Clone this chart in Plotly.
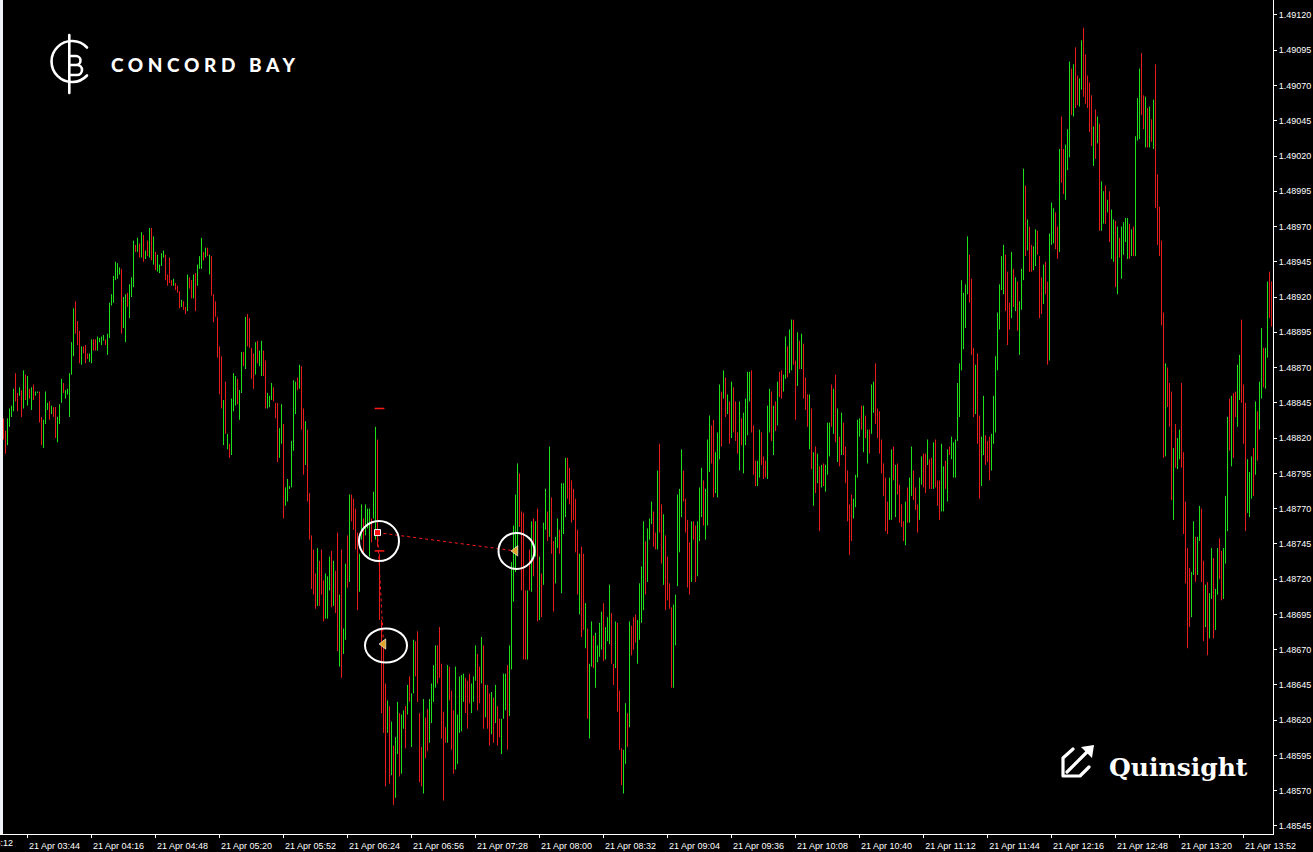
import base64
import pandas as pd
import plotly.graph_objects as go

# ---------------- data (prices in points: price = 1.48 + pts * 1e-5) ----------------
BASE = 1.48
PT = 1e-5
START = "2023-04-21 03:32"   # first 1-minute bar

high_pts = [
    834, 825, 834, 841, 843, 855, 866, 852, 856, 854,
    868, 865, 864, 855, 856, 858, 853, 853, 853, 835,
    833, 853, 845, 846, 843, 842, 842, 835, 844, 862,
    859, 854, 855, 866, 888, 912, 917, 903, 896, 885,
    885, 886, 880, 880, 890, 890, 890, 892, 891, 892,
    893, 890, 894, 916, 922, 935, 945, 944, 941, 940,
    920, 922, 923, 929, 934, 960, 957, 962, 958, 966,
    964, 953, 960, 969, 969, 963, 952, 950, 943, 951,
    953, 950, 936, 948, 932, 933, 930, 928, 924, 918,
    917, 913, 936, 934, 932, 936, 937, 943, 949, 962,
    952, 955, 955, 950, 949, 922, 917, 906, 885, 878,
    847, 860, 823, 816, 848, 866, 864, 862, 854, 881,
    881, 906, 908, 905, 884, 880, 888, 889, 882, 889,
    882, 875, 852, 850, 859, 856, 845, 845, 827, 844,
    830, 785, 791, 786, 818, 861, 860, 863, 872, 871,
    841, 832, 826, 781, 751, 741, 724, 742, 733, 741,
    719, 724, 722, 736, 740, 733, 726, 753, 709, 741,
    685, 731, 751, 780, 780, 777, 770, 753, 738, 773,
    763, 773, 770, 770, 763, 782, 828, 819, 738, 691,
    672, 646, 634, 630, 619, 602, 608, 633, 625, 624,
    627, 630, 645, 651, 639, 677, 676, 683, 625, 601,
    635, 622, 628, 635, 646, 659, 673, 673, 686, 660,
    626, 615, 659, 658, 641, 627, 658, 624, 651, 652,
    653, 650, 648, 653, 646, 651, 673, 667, 658, 679,
    673, 645, 645, 639, 640, 636, 645, 630, 621, 621,
    653, 653, 659, 673, 732, 758, 780, 802, 795, 768,
    767, 712, 712, 741, 761, 763, 761, 770, 736, 724,
    760, 784, 768, 814, 778, 747, 750, 763, 755, 788,
    788, 806, 806, 799, 790, 784, 777, 755, 738, 743,
    738, 703, 685, 660, 690, 680, 682, 673, 689, 697,
    703, 686, 693, 716, 696, 660, 690, 689, 641, 600,
    599, 632, 625, 690, 687, 693, 695, 691, 717, 729,
    761, 747, 756, 763, 775, 768, 753, 797, 816, 773,
    766, 751, 736, 717, 700, 702, 709, 780, 784, 812,
    797, 777, 762, 746, 761, 761, 758, 761, 785, 799,
    790, 784, 819, 836, 829, 833, 810, 824, 858, 853,
    868, 863, 851, 846, 860, 856, 846, 824, 846, 834,
    838, 848, 867, 867, 868, 829, 804, 804, 826, 824,
    807, 804, 843, 855, 853, 843, 846, 860, 867, 868,
    865, 892, 885, 897, 904, 904, 875, 895, 889, 894,
    887, 863, 851, 851, 841, 810, 814, 809, 800, 801,
    802, 801, 831, 831, 858, 855, 865, 841, 821, 838,
    831, 814, 797, 773, 780, 777, 794, 833, 834, 843,
    843, 836, 826, 826, 858, 860, 873, 841, 839, 819,
    802, 792, 775, 792, 812, 814, 801, 802, 787, 773,
    761, 775, 785, 792, 814, 797, 785, 773, 792, 807,
    809, 809, 819, 805, 806, 817, 819, 790, 790, 816,
    800, 804, 812, 814, 821, 817, 819, 859, 873, 932,
    923, 929, 963, 950, 933, 884, 872, 880, 836, 821,
    850, 822, 818, 821, 823, 850, 878, 909, 929, 949,
    957, 950, 938, 916, 952, 940, 934, 931, 917, 940,
    1011, 999, 975, 970, 957, 956, 968, 967, 949, 934,
    943, 945, 931, 965, 987, 983, 980, 970, 1025, 1048,
    1025, 1028, 1039, 1087, 1082, 1085, 1097, 1077, 1075, 1102,
    1111, 1092, 1077, 1072, 1063, 1041, 1053, 1048, 1043, 1002,
    995, 999, 989, 995, 982, 975, 974, 970, 962, 970,
    973, 976, 976, 972, 968, 970, 1034, 1061, 1082, 1093,
    1063, 1062, 1054, 1055, 1046, 1060, 1085, 1007, 984, 960,
    909, 873, 870, 859, 853, 813, 830, 820, 826, 859,
    810, 775, 742, 728, 725, 761, 750, 750, 772, 770,
    733, 716, 718, 710, 742, 735, 713, 742, 749, 740,
    742, 779, 835, 848, 850, 852, 853, 872, 879, 904,
    858, 845, 805, 796, 807, 813, 846, 839, 860, 898,
    884, 884, 931, 938, 931,
]

low_pts = [
    819, 809, 815, 828, 835, 839, 846, 839, 850, 835,
    841, 847, 843, 848, 840, 847, 850, 852, 831, 815,
    813, 830, 840, 833, 837, 835, 820, 817, 830, 845,
    852, 848, 851, 835, 865, 878, 894, 886, 873, 872,
    880, 873, 876, 874, 873, 882, 882, 882, 888, 886,
    889, 886, 879, 891, 914, 916, 932, 933, 936, 894,
    898, 888, 913, 905, 920, 927, 952, 952, 948, 948,
    945, 947, 949, 948, 946, 943, 939, 938, 937, 942,
    948, 932, 928, 930, 928, 928, 925, 923, 912, 913,
    911, 908, 910, 926, 919, 919, 910, 928, 940, 940,
    946, 948, 949, 936, 921, 902, 906, 877, 851, 841,
    815, 823, 812, 806, 808, 839, 843, 844, 833, 852,
    871, 869, 885, 884, 862, 855, 865, 873, 871, 864,
    864, 841, 841, 842, 847, 846, 834, 803, 806, 816,
    763, 772, 775, 784, 785, 811, 837, 854, 855, 826,
    794, 801, 775, 748, 713, 709, 699, 701, 701, 709,
    690, 692, 692, 712, 700, 701, 696, 669, 658, 650,
    667, 677, 714, 718, 761, 755, 741, 698, 711, 748,
    738, 751, 756, 736, 746, 763, 748, 743, 691, 625,
    611, 573, 611, 575, 581, 560, 565, 596, 580, 582,
    614, 600, 624, 633, 601, 639, 651, 633, 576, 573,
    568, 593, 598, 604, 618, 633, 643, 646, 650, 607,
    563, 604, 604, 634, 599, 582, 585, 589, 611, 612,
    633, 625, 614, 632, 625, 633, 648, 627, 632, 646,
    614, 622, 614, 602, 610, 604, 618, 602, 608, 596,
    621, 627, 599, 623, 656, 704, 725, 741, 757, 712,
    663, 663, 663, 712, 711, 722, 736, 690, 691, 693,
    716, 755, 747, 750, 738, 697, 717, 742, 738, 710,
    752, 764, 777, 773, 760, 762, 739, 709, 695, 679,
    684, 671, 621, 607, 658, 657, 643, 661, 665, 670,
    662, 663, 676, 674, 660, 645, 657, 626, 599, 574,
    568, 589, 601, 615, 666, 670, 675, 660, 677, 689,
    698, 709, 718, 748, 759, 743, 741, 741, 753, 731,
    716, 698, 705, 699, 643, 643, 673, 715, 739, 764,
    775, 753, 714, 709, 718, 748, 718, 722, 747, 764,
    758, 748, 758, 796, 802, 778, 781, 778, 805, 814,
    848, 835, 837, 816, 820, 824, 818, 809, 797, 815,
    795, 815, 822, 846, 824, 794, 786, 786, 792, 801,
    791, 792, 791, 824, 818, 808, 825, 829, 849, 848,
    853, 862, 863, 866, 868, 872, 833, 857, 869, 869,
    848, 840, 828, 812, 798, 772, 781, 788, 754, 785,
    786, 782, 794, 807, 828, 823, 817, 803, 800, 808,
    808, 788, 761, 737, 747, 763, 771, 792, 821, 826,
    810, 820, 802, 809, 823, 838, 830, 820, 809, 795,
    779, 754, 752, 762, 762, 790, 764, 780, 760, 757,
    747, 744, 760, 760, 779, 776, 769, 753, 762, 787,
    785, 781, 801, 784, 784, 784, 785, 772, 762, 768,
    768, 784, 775, 808, 805, 792, 792, 818, 835, 868,
    883, 898, 922, 916, 879, 835, 837, 816, 777, 786,
    808, 801, 803, 790, 797, 816, 824, 868, 897, 925,
    922, 910, 886, 897, 905, 913, 910, 896, 879, 911,
    932, 949, 953, 938, 938, 939, 942, 950, 905, 908,
    915, 922, 872, 875, 957, 958, 954, 947, 952, 1001,
    993, 989, 1010, 1019, 1049, 1048, 1054, 1056, 1055, 1067,
    1062, 1057, 1054, 1037, 1027, 1013, 1018, 1029, 967, 967,
    972, 972, 980, 959, 947, 945, 927, 922, 948, 933,
    950, 959, 947, 947, 949, 949, 949, 1031, 1032, 1049,
    1039, 1026, 1026, 1026, 1030, 1025, 983, 957, 949, 900,
    806, 807, 842, 828, 776, 762, 799, 798, 805, 799,
    752, 717, 671, 686, 693, 723, 718, 723, 747, 718,
    676, 686, 666, 678, 706, 678, 684, 709, 720, 705,
    706, 731, 754, 811, 800, 806, 835, 828, 847, 845,
    816, 754, 767, 764, 777, 779, 794, 804, 826, 848,
    856, 855, 877, 905, 899,
]

# 1 = up bar (green), 0 = down bar (red)
is_up = [
    0, 0, 1, 1, 1, 1, 0, 0, 1, 0,
    1, 0, 1, 0, 1, 0, 1, 1, 0, 0,
    1, 1, 1, 0, 1, 0, 0, 1, 1, 1,
    0, 1, 1, 1, 1, 1, 0, 0, 0, 1,
    0, 0, 0, 1, 1, 0, 0, 1, 1, 1,
    1, 0, 1, 1, 1, 1, 1, 1, 1, 0,
    1, 1, 0, 1, 1, 1, 0, 1, 0, 1,
    0, 1, 0, 1, 0, 1, 0, 1, 1, 1,
    1, 0, 0, 0, 0, 1, 0, 0, 0, 1,
    0, 0, 1, 0, 0, 1, 0, 1, 1, 1,
    0, 1, 0, 1, 0, 0, 0, 0, 0, 0,
    1, 0, 1, 0, 1, 1, 1, 0, 1, 1,
    0, 1, 0, 0, 0, 0, 1, 0, 1, 1,
    0, 0, 1, 1, 1, 0, 0, 0, 1, 1,
    0, 1, 1, 1, 1, 1, 1, 0, 1, 0,
    0, 1, 0, 0, 0, 0, 0, 1, 0, 0,
    0, 1, 1, 1, 0, 1, 0, 0, 1, 0,
    1, 1, 0, 1, 0, 0, 0, 0, 1, 1,
    0, 1, 1, 1, 0, 1, 1, 0, 0, 0,
    0, 0, 1, 0, 1, 0, 1, 1, 0, 1,
    1, 0, 1, 0, 1, 1, 0, 0, 0, 0,
    1, 0, 0, 1, 1, 1, 1, 0, 0, 0,
    0, 0, 1, 0, 0, 0, 1, 1, 1, 1,
    1, 0, 0, 0, 1, 1, 1, 0, 0, 1,
    0, 1, 0, 0, 1, 0, 1, 0, 0, 1,
    1, 1, 0, 1, 1, 1, 1, 1, 0, 0,
    0, 0, 1, 0, 1, 0, 1, 0, 1, 0,
    1, 1, 0, 1, 0, 0, 1, 1, 0, 1,
    1, 1, 0, 0, 0, 0, 0, 0, 1, 0,
    0, 1, 0, 1, 1, 0, 1, 1, 1, 1,
    0, 1, 1, 1, 0, 0, 1, 0, 0, 0,
    1, 1, 0, 1, 0, 0, 0, 1, 1, 1,
    1, 0, 1, 1, 1, 0, 0, 1, 0, 0,
    1, 0, 0, 0, 0, 1, 1, 1, 1, 1,
    0, 0, 0, 0, 1, 0, 0, 1, 1, 1,
    0, 1, 1, 1, 0, 0, 1, 1, 1, 0,
    1, 0, 1, 0, 1, 0, 0, 0, 1, 0,
    1, 1, 1, 1, 0, 0, 0, 1, 1, 0,
    0, 0, 1, 1, 0, 1, 0, 1, 0, 0,
    1, 1, 0, 1, 1, 0, 0, 1, 0, 1,
    0, 0, 0, 1, 0, 1, 0, 1, 0, 1,
    0, 1, 1, 1, 0, 1, 0, 1, 0, 1,
    0, 0, 0, 0, 0, 1, 1, 1, 1, 0,
    1, 0, 1, 0, 1, 1, 0, 0, 0, 0,
    0, 0, 0, 1, 1, 0, 1, 0, 0, 0,
    0, 1, 0, 1, 1, 0, 0, 0, 1, 1,
    0, 0, 1, 0, 0, 1, 0, 0, 0, 1,
    1, 0, 1, 0, 1, 1, 1, 1, 1, 1,
    1, 1, 1, 0, 0, 0, 1, 0, 0, 1,
    1, 0, 0, 0, 1, 1, 1, 1, 1, 1,
    1, 0, 0, 0, 1, 0, 1, 0, 1, 1,
    1, 0, 1, 0, 0, 1, 1, 0, 0, 0,
    1, 0, 0, 1, 1, 1, 0, 0, 1, 0,
    0, 1, 1, 1, 0, 1, 0, 0, 1, 1,
    0, 0, 0, 0, 0, 1, 0, 1, 0, 1,
    1, 0, 1, 0, 1, 1, 0, 1, 0, 1,
    1, 1, 1, 0, 1, 0, 1, 1, 1, 0,
    0, 1, 0, 1, 0, 1, 0, 0, 0, 0,
    0, 1, 0, 0, 0, 1, 0, 1, 1, 0,
    0, 0, 0, 0, 1, 1, 0, 1, 1, 0,
    0, 1, 0, 1, 1, 0, 1, 1, 0, 0,
    1, 1, 1, 0, 1, 0, 0, 1, 1, 0,
    0, 0, 1, 1, 1, 0, 1, 0, 1, 1,
    0, 1, 1, 0, 0,
]

# trade objects drawn on the chart
entry_time, entry_price = "2023-04-21 06:39", 1.48753
exit_times = ["2023-04-21 07:48", "2023-04-21 06:42"]
exit_prices = [1.48740, 1.48674]
level_time = "2023-04-21 06:40"
level_prices = [1.48841, 1.48740]
circle_times = ["2023-04-21 06:39:45", "2023-04-21 07:48:30", "2023-04-21 06:43:15"]
circle_prices = [1.48747, 1.48740, 1.48673]
circle_rx = [20, 18, 21]
circle_ry = [20, 18, 17]

# axis settings
TICK0_TIME = "2023-04-21 03:44"
TICK_STEP_MIN = 32
Y_TICK0, Y_DTICK = 1.48545, 0.00025
Y_RANGE = [1.485393, 1.491306]

UP_COLOR = "#1fe01a"
DOWN_COLOR = "#e41c1c"

# ---------------- build ----------------
times = pd.date_range(START, periods=len(high_pts), freq="min")


def segments(flag):
    xs, ys = [], []
    for t, h, l, u in zip(times, high_pts, low_pts, is_up):
        if u == flag:
            xs += [t, t, None]
            ys += [BASE + l * PT, BASE + h * PT, None]
    return xs, ys


fig = go.Figure()
for flag, col in ((1, UP_COLOR), (0, DOWN_COLOR)):
    xs, ys = segments(flag)
    fig.add_trace(go.Scatter(x=xs, y=ys, mode="lines",
                             line=dict(color=col, width=1),
                             hoverinfo="skip", showlegend=False))

# dashed trade lines
for et, ep in zip(exit_times, exit_prices):
    fig.add_trace(go.Scatter(x=[entry_time, et], y=[entry_price, ep], mode="lines",
                             line=dict(color="#ff1a1a", width=1, dash="3px,3px"),
                             hoverinfo="skip", showlegend=False))

# level ticks
fig.add_trace(go.Scatter(x=[level_time] * len(level_prices), y=level_prices, mode="markers",
                         marker=dict(symbol="line-ew", size=7,
                                     line=dict(color="#ff1a1a", width=1.5)),
                         hoverinfo="skip", showlegend=False))
# entry marker
fig.add_trace(go.Scatter(x=[entry_time], y=[entry_price], mode="markers",
                         marker=dict(symbol="square", size=6, color="#ff1010",
                                     line=dict(color="white", width=1)),
                         hoverinfo="skip", showlegend=False))
# exit markers
fig.add_trace(go.Scatter(x=exit_times, y=exit_prices, mode="markers",
                         marker=dict(symbol="triangle-left", size=9, color="#e0a526",
                                     line=dict(color="white", width=0.6)),
                         hoverinfo="skip", showlegend=False))

shapes = [dict(type="rect", xref="paper", yref="paper", x0=0, x1=3 / 1273, y0=0, y1=1,
               fillcolor="#eef2f7", line=dict(width=0), layer="below")]
for ct, cp, rx, ry in zip(circle_times, circle_prices, circle_rx, circle_ry):
    shapes.append(dict(type="circle", xref="x", yref="y",
                       xsizemode="pixel", ysizemode="pixel",
                       xanchor=ct, yanchor=cp, x0=-rx, x1=rx, y0=-ry, y1=ry,
                       line=dict(color="white", width=2)))

# logos (icons as small inline svgs, text as real text)
cb_svg = (
    '<svg xmlns="http://www.w3.org/2000/svg" width="50" height="68" viewBox="0 0 50 68">'
    '<g fill="none" stroke="white" stroke-width="2.6" stroke-linecap="round">'
    '<path d="M 42 17.5 A 20.5 20.5 0 1 0 42 45.5"/>'
    '<path d="M 24.3 5 V 63"/>'
    '<path d="M 24.3 26 H 31 A 4.5 4.5 0 0 1 31 35 H 24.3 M 24.3 35 H 32 A 5 5 0 0 1 32 45 H 24.3"/>'
    '</g></svg>')
q_svg = (
    '<svg xmlns="http://www.w3.org/2000/svg" width="36" height="36" viewBox="0 0 36 36">'
    '<g fill="none" stroke="white" stroke-width="3.2" stroke-linejoin="round" stroke-linecap="round">'
    '<path d="M 14 5 L 4 14 L 4 32 L 21 32 L 30 23"/>'
    '<path d="M 8 28 L 30 6"/>'
    '</g>'
    '<path d="M 35 1 L 22 3 L 33 14 Z" fill="white"/>'
    '</svg>')


def uri(s):
    return "data:image/svg+xml;base64," + base64.b64encode(s.encode()).decode()


PW, PH = 1273.0, 834.0
images = [
    dict(source=uri(cb_svg), xref="paper", yref="paper", x=45 / PW, y=1 - 30 / PH,
         sizex=50 / PW, sizey=68 / PH, xanchor="left", yanchor="top",
         sizing="stretch", layer="above"),
    dict(source=uri(q_svg), xref="paper", yref="paper", x=1059 / PW, y=1 - 744 / PH,
         sizex=36 / PW, sizey=36 / PH, xanchor="left", yanchor="top",
         sizing="stretch", layer="above"),
]

annotations = [
    dict(text='<span style="letter-spacing:4.6px">CONCORD BAY</span>',
         xref="paper", yref="paper", x=109 / PW, y=1 - 64.5 / PH,
         xanchor="left", yanchor="middle", showarrow=False,
         font=dict(family="Lato", size=19, color="white", weight=900)),
    dict(text="Quinsight", xref="paper", yref="paper", x=1107 / PW, y=1 - 767 / PH,
         xanchor="left", yanchor="middle", showarrow=False,
         font=dict(family="DejaVu Serif", size=25, color="white", weight=700)),
    # partially visible first time label, cut by the window edge
    dict(text="21 Apr 03:12", xref="paper", yref="paper", x=-13 / PW, y=-9.5 / PH,
         xanchor="center", yanchor="middle", showarrow=False,
         font=dict(family="Liberation Sans", size=9, color="white")),
]

x0 = times[0] - pd.Timedelta(minutes=1.75)
x1 = x0 + pd.Timedelta(minutes=636.5)

tickfont = dict(family="Liberation Sans", size=9, color="white")
fig.update_layout(
    width=1313, height=852,
    margin=dict(l=0, r=40, t=0, b=18, pad=0),
    paper_bgcolor="black", plot_bgcolor="black",
    showlegend=False,
    shapes=shapes, images=images, annotations=annotations,
    xaxis=dict(type="date", range=[x0, x1], showgrid=False, zeroline=False,
               showline=True, linecolor="white", linewidth=1,
               ticks="outside", ticklen=3, tickcolor="white", tickwidth=1,
               tick0=TICK0_TIME, dtick=TICK_STEP_MIN * 60 * 1000,
               tickformat="%d %b %H:%M", tickfont=tickfont,
               ticklabelshift=27, ticklabelstandoff=0, fixedrange=True),
    yaxis=dict(side="right", range=Y_RANGE, showgrid=False, zeroline=False,
               showline=True, linecolor="white", linewidth=1,
               ticks="outside", ticklen=3, tickcolor="white", tickwidth=1,
               tick0=Y_TICK0, dtick=Y_DTICK, tickformat=".5f",
               tickfont=tickfont, fixedrange=True),
)

fig.write_html(
    "out.html",
    config={"displayModeBar": False},
    post_script="document.body.style.margin='0';document.body.style.overflow='hidden';",
)
